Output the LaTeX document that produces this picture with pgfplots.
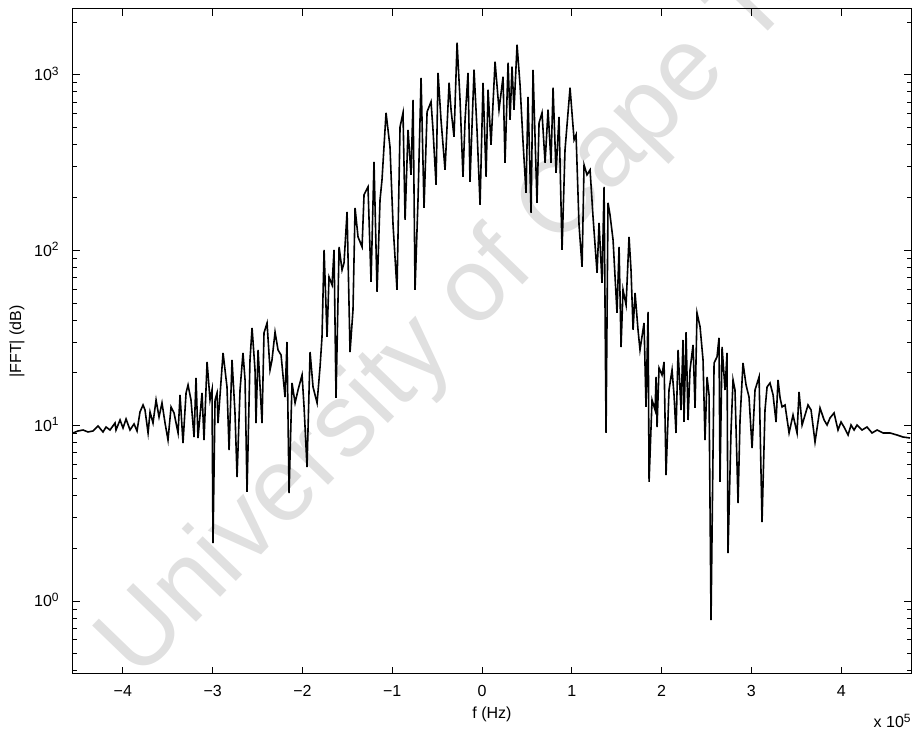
\documentclass[border=0pt]{standalone}
\usepackage{fontspec}
\setmainfont{Liberation Sans}
\usepackage{pgfplots}
\pgfplotsset{compat=1.18}
\pgfdeclarelayer{background}
\pgfsetlayers{background,main}
\pgfplotstableread{
x y
-4.555 9.09
-4.499 9.33
-4.443 9.45
-4.388 9.21
-4.332 9.33
-4.276 9.96
-4.221 9.21
-4.187 9.83
-4.143 9.45
-4.087 10.36
-4.076 9.45
-4.031 10.78
-3.998 9.70
-3.964 10.92
-3.920 9.45
-3.875 10.23
-3.842 9.33
-3.809 11.97
-3.775 13.13
-3.753 12.29
-3.719 9.09
-3.697 11.97
-3.664 10.36
-3.630 14.02
-3.597 11.21
-3.564 13.48
-3.530 10.36
-3.497 8.29
-3.463 12.79
-3.430 11.82
-3.385 9.09
-3.363 14.97
-3.330 7.97
-3.296 15.37
-3.274 17.07
-3.241 14.02
-3.207 8.62
-3.185 18.72
-3.163 8.51
-3.118 15.37
-3.096 8.29
-3.062 23.09
-3.029 14.02
-3.007 15.99
-2.996 2.14
-2.973 14.02
-2.951 15.37
-2.940 10.36
-2.884 26.0
-2.840 16.63
-2.817 7.27
-2.784 23.71
-2.751 11.82
-2.728 5.10
-2.695 15.99
-2.662 26.0
-2.639 18.23
-2.617 4.19
-2.584 23.71
-2.561 36.1
-2.528 20.79
-2.517 10.36
-2.494 27.04
-2.450 10.36
-2.428 33.8
-2.394 38.5
-2.361 20.79
-2.339 23.71
-2.305 34.2
-2.272 27.04
-2.238 25.3
-2.194 14.58
-2.172 30.0
-2.149 4.13
-2.116 17.52
-2.082 13.48
-2.049 15.99
-2.004 19.47
-1.982 12.79
-1.949 5.81
-1.915 26.3
-1.882 16.63
-1.837 13.48
-1.804 21.6
-1.782 32.1
-1.759 100.6
-1.726 32.1
-1.704 70.5
-1.670 63.5
-1.648 100.6
-1.626 14.39
-1.592 104.6
-1.559 77.3
-1.537 84.8
-1.503 165.7
-1.470 26.3
-1.437 45.7
-1.414 174.6
-1.381 119.3
-1.336 104.6
-1.314 207.2
-1.270 230.1
-1.236 66.1
-1.203 319.6
-1.169 57.9
-1.136 194.0
-1.114 252.3
-1.069 608
-1.025 389
-0.991 139.7
-0.947 59.5
-0.913 506
-0.880 608
-0.857 149.1
-0.824 486
-0.791 269.4
-0.768 721
-0.746 59.5
-0.713 194.0
-0.679 963
-0.646 174.6
-0.612 616
-0.568 703
-0.546 486
-0.512 236.2
-0.490 1028
-0.457 555
-0.412 287.6
-0.367 902
-0.345 633
-0.312 443.7
-0.278 1526
-0.245 721
-0.212 262.4
-0.189 555
-0.156 1028
-0.134 245.7
-0.089 1070
-0.056 486
-0.022 181.6
0.011 902
0.045 262.4
0.067 823
0.100 399.5
0.145 1189
0.189 633
0.234 976
0.256 315.4
0.290 1173
0.312 555
0.334 1113
0.356 633
0.390 1486
0.423 879
0.457 410
0.490 212.7
0.512 750
0.546 163.5
0.568 1070
0.612 186.5
0.635 533
0.668 608
0.702 315.4
0.735 633
0.768 315.4
0.791 845
0.824 276.5
0.857 577
0.891 100.6
0.924 374
0.980 845
1.025 426.6
1.047 455.5
1.080 139.7
1.114 80.4
1.136 307
1.169 269.4
1.203 287.6
1.236 155.1
1.281 74.3
1.303 143.4
1.336 65.2
1.359 230.1
1.381 9.09
1.403 186.5
1.425 159.3
1.459 114.7
1.503 43.95
1.526 104.6
1.548 28.1
1.570 59.5
1.604 48.8
1.637 119.3
1.659 77.3
1.682 35.2
1.704 57.2
1.737 35.2
1.759 27.04
1.804 38.5
1.826 12.79
1.849 44.5
1.860 4.78
1.893 14.02
1.927 12.29
1.938 18.97
1.949 9.83
1.971 21.35
2.004 19.47
2.027 23.09
2.049 5.23
2.082 15.99
2.116 20.79
2.138 14.97
2.160 9.09
2.183 27.04
2.216 12.29
2.238 30.8
2.249 10.50
2.272 34.2
2.294 10.78
2.316 20.79
2.350 28.9
2.372 12.62
2.394 43.95
2.428 36.6
2.461 23.71
2.483 8.29
2.506 18.97
2.528 14.97
2.550 0.779
2.584 22.8
2.617 24.7
2.639 31.7
2.650 4.78
2.673 28.1
2.706 15.99
2.728 26.0
2.739 1.88
2.773 9.45
2.795 18.23
2.817 15.99
2.851 3.62
2.873 10.78
2.906 22.8
2.940 17.07
2.973 14.58
3.007 7.46
3.040 15.99
3.085 18.97
3.118 2.82
3.151 12.29
3.174 16.63
3.207 17.52
3.241 14.97
3.274 10.50
3.296 18.23
3.319 14.39
3.341 12.79
3.374 13.13
3.419 9.09
3.463 11.51
3.508 9.09
3.530 15.57
3.564 10.09
3.597 11.51
3.630 13.13
3.664 12.29
3.708 8.07
3.764 12.62
3.809 10.78
3.842 10.09
3.875 11.07
3.920 11.82
3.964 9.45
3.998 10.50
4.031 9.83
4.076 8.85
4.109 10.09
4.143 9.45
4.176 10.09
4.232 9.45
4.287 9.83
4.343 9.09
4.399 9.45
4.466 9.09
4.543 9.09
4.621 8.85
4.688 8.62
4.766 8.51
}\fftdata
\begin{document}
\begin{tikzpicture}
\begin{axis}[
  scale only axis,
  width=419pt, height=332.5pt,
  xmin=-4.555, xmax=4.777,
  ymode=log, ymin=0.384, ymax=2377,
  xtick={-4,-3,-2,-1,0,1,2,3,4},
  xticklabels={−4,−3,−2,−1,0,1,2,3,4},
  ytick={1,10,100,1000},
  yticklabels={10\textsuperscript{0},10\textsuperscript{1},10\textsuperscript{2},10\textsuperscript{3}},
  minor ytick={0.4,0.5,0.6,0.7,0.8,0.9,2,3,4,5,6,7,8,9,20,30,40,50,60,70,80,90,200,300,400,500,600,700,800,900,2000},
  tick label style={font=\fontsize{8}{9.6}\selectfont, inner sep=0pt},
  xticklabel style={anchor=base, yshift=-11.4pt},
  yticklabel style={anchor=base east, xshift=-6.5pt, yshift=-2.9pt},
  major tick length=3.5pt, minor tick length=2pt,
  tick style={black, line width=0.5pt},
  axis line style={black, line width=0.5pt},
]
\addplot[black, line width=0.8pt] table[x=x, y=y] {\fftdata};
\coordinate (SW) at (rel axis cs:0,0);
\coordinate (NE) at (rel axis cs:1,1);
\coordinate (SE) at (rel axis cs:1,0);
\coordinate (W) at (rel axis cs:0,0.5);
\coordinate (S) at (rel axis cs:0.5,0);
\end{axis}
\node[rotate=90, font=\fontsize{8}{9.6}\selectfont, inner sep=0pt] at ([xshift=-28pt]W) {|FFT| (dB)};
\node[font=\fontsize{8}{9.6}\selectfont, inner sep=0pt] at ([yshift=-20pt]S) {f (Hz)};
\node[anchor=base east, font=\fontsize{8}{9.6}\selectfont, inner sep=0pt] at ([xshift=0.5pt, yshift=-27pt]SE) {x 10\textsuperscript{5}};
\begin{pgfonlayer}{background}
\node[rotate=46, text=black!12, font=\fontsize{52}{60}\selectfont, inner sep=0pt] at ([xshift=218pt, yshift=207pt]SW) {University of Cape Town};
\end{pgfonlayer}
\pgfresetboundingbox
\path ([xshift=-36.5pt, yshift=-30pt]SW) rectangle ([xshift=0.5pt, yshift=4.5pt]NE);
\end{tikzpicture}
\end{document}
